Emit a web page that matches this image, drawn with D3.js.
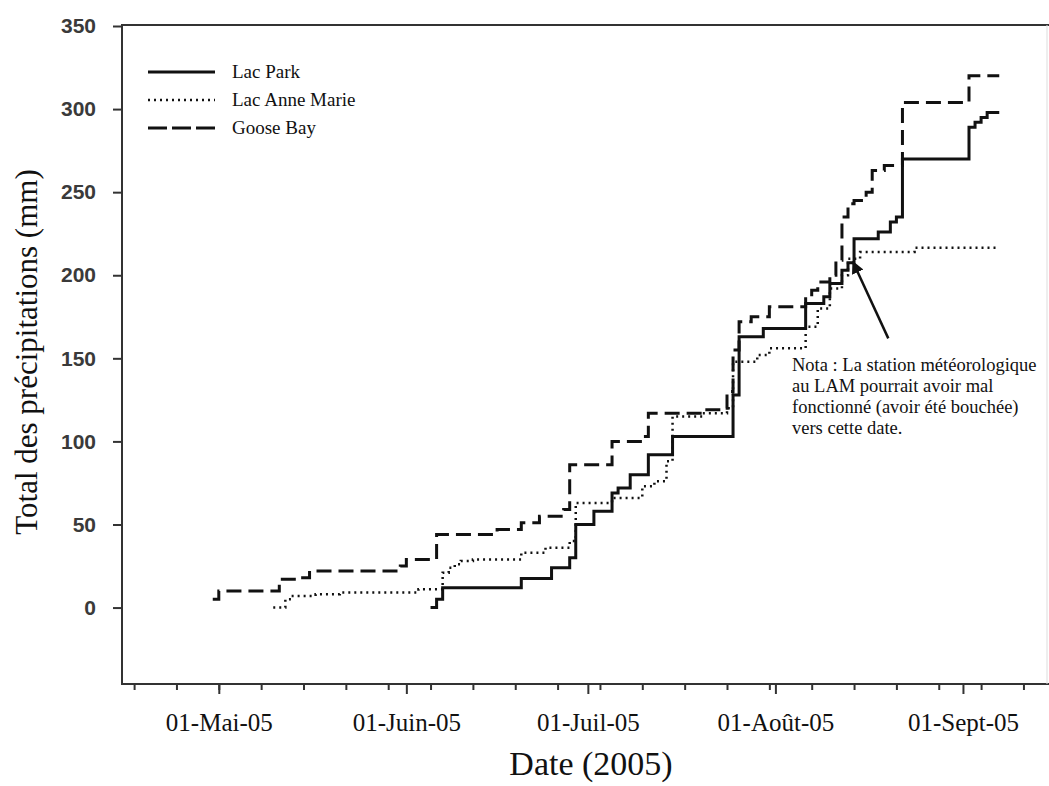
<!DOCTYPE html>
<html>
<head>
<meta charset="utf-8">
<script src="https://cdn.jsdelivr.net/npm/d3@7"></script>
<style>
  html, body { margin: 0; padding: 0; background: #fff; }
  svg { display: block; }
</style>
</head>
<body>
<svg id="chart" width="1049" height="786"></svg>
<script>
// ---- data ----
const seriesNames = ["Lac Park", "Lac Anne Marie", "Goose Bay"];

const parkDates = ["2005-06-05","2005-06-06","2005-06-07","2005-06-20","2005-06-25","2005-06-28","2005-06-29",
  "2005-07-02","2005-07-05","2005-07-06","2005-07-08","2005-07-11","2005-07-15","2005-07-25","2005-07-26",
  "2005-07-30","2005-08-06","2005-08-09","2005-08-10","2005-08-12","2005-08-13","2005-08-14","2005-08-18",
  "2005-08-20","2005-08-21","2005-08-22","2005-09-02","2005-09-03","2005-09-04","2005-09-05","2005-09-07"];
const parkValues = [0, 5, 12, 17.5, 24, 30, 50,
  58, 69, 72, 80, 92, 103, 128, 163,
  168, 183, 187, 195, 203, 207.5, 222, 226,
  232, 235, 270, 289, 292, 295, 298, 298];

const anneDates = ["2005-05-10","2005-05-12","2005-05-13","2005-05-17","2005-05-21","2005-06-03","2005-06-07",
  "2005-06-08","2005-06-09","2005-06-10","2005-06-12","2005-06-20","2005-06-24","2005-06-28","2005-06-29",
  "2005-07-05","2005-07-10","2005-07-12","2005-07-14","2005-07-15","2005-07-20","2005-07-24","2005-07-25",
  "2005-07-29","2005-07-31","2005-08-06","2005-08-08","2005-08-10","2005-08-12","2005-08-13","2005-08-15",
  "2005-08-24","2005-09-07"];
const anneValues = [0, 5, 7, 8, 9, 11, 21,
  24, 26, 28, 29, 33, 36, 40, 63,
  66, 73, 76, 88, 115, 117, 120, 148,
  152, 156, 169, 180, 192, 200, 210, 214,
  216.5, 216.5];

const gooseDates = ["2005-04-30","2005-05-01","2005-05-11","2005-05-14","2005-05-16","2005-05-31","2005-06-01",
  "2005-06-06","2005-06-16","2005-06-20","2005-06-23","2005-06-27","2005-06-28","2005-07-05","2005-07-10",
  "2005-07-11","2005-07-20","2005-07-23","2005-07-24","2005-07-25","2005-07-26","2005-07-28","2005-07-31",
  "2005-08-06","2005-08-07","2005-08-08","2005-08-10","2005-08-11","2005-08-12","2005-08-13","2005-08-14",
  "2005-08-16","2005-08-17","2005-08-19","2005-08-22","2005-09-02","2005-09-07"];
const gooseValues = [5, 10, 17, 18, 22, 25, 29,
  44, 47, 51, 55, 59, 86, 100, 103,
  117, 119, 120, 130, 155, 172, 175, 181,
  187, 191, 196, 200, 209, 235, 243, 245,
  250, 263, 266, 304, 320, 320];

const yTicks = [0, 50, 100, 150, 200, 250, 300, 350];
const monthTickDates = ["2005-05-01","2005-06-01","2005-07-01","2005-08-01","2005-09-01"];
const monthTickLabels = ["01-Mai-05","01-Juin-05","01-Juil-05","01-Août-05","01-Sept-05"];
const noteLines = ["Nota : La station météorologique","au LAM pourrait avoir mal",
  "fonctionné (avoir été bouchée)","vers cette date."];

// ---- layout ----
const parse = d3.timeParse("%Y-%m-%d");
const plotLeft = 122, plotTop = 26, plotBottom = 684;
const serif = "'Liberation Serif','Times New Roman',serif";
const sans = "'Liberation Sans',Arial,sans-serif";

const x = d3.scaleTime()
  .domain([parse("2005-04-15"), parse("2005-09-16")])
  .range([plotLeft, plotLeft + 154 * 6.05]);
const y = d3.scaleLinear().domain([-46, 350]).range([plotBottom, plotTop]);

const svg = d3.select("#chart");
svg.append("rect").attr("width", 1049).attr("height", 786).attr("fill", "#fff");

// frame
svg.append("line").attr("x1", plotLeft).attr("x2", 1049).attr("y1", 25).attr("y2", 25)
  .attr("stroke", "#333").attr("stroke-width", 2);
svg.append("line").attr("x1", plotLeft).attr("x2", 1049).attr("y1", plotBottom).attr("y2", plotBottom)
  .attr("stroke", "#333").attr("stroke-width", 2);
svg.append("line").attr("x1", plotLeft).attr("x2", plotLeft).attr("y1", 24).attr("y2", plotBottom + 1)
  .attr("stroke", "#333").attr("stroke-width", 2);
svg.append("line").attr("x1", 1047).attr("x2", 1047).attr("y1", 25).attr("y2", plotBottom)
  .attr("stroke", "#ddd").attr("stroke-width", 1);

// y axis
const yAxis = svg.append("g").attr("transform", `translate(${plotLeft},0)`)
  .call(d3.axisLeft(y).tickValues(yTicks).tickSize(9).tickPadding(17));
yAxis.select(".domain").remove();
yAxis.selectAll(".tick line").attr("stroke", "#333").attr("stroke-width", 2);
yAxis.selectAll(".tick text").attr("font-family", sans).attr("font-size", 21)
  .attr("font-weight", "bold").attr("fill", "#3a3a3a");

// x axis minor (weekly) ticks
const xMinor = svg.append("g").attr("transform", `translate(0,${plotBottom})`)
  .call(d3.axisBottom(x).ticks(d3.timeWeek.every(1)).tickSize(6).tickFormat(""));
xMinor.select(".domain").remove();
xMinor.selectAll(".tick line").attr("stroke", "#333").attr("stroke-width", 2);

// x axis major (monthly) ticks
const monthDates = monthTickDates.map(parse);
const xMajor = svg.append("g").attr("transform", `translate(0,${plotBottom})`)
  .call(d3.axisBottom(x).tickValues(monthDates).tickSize(10)
    .tickFormat((d, i) => monthTickLabels[i]));
xMajor.select(".domain").remove();
xMajor.selectAll(".tick line").attr("stroke", "#333").attr("stroke-width", 2);
xMajor.selectAll(".tick text").attr("font-family", serif).attr("font-size", 25)
  .attr("fill", "#111").attr("y", 47).attr("dy", 0);

// axis titles
svg.append("text").attr("x", 591).attr("y", 775).attr("text-anchor", "middle")
  .attr("font-family", serif).attr("font-size", 34).attr("fill", "#111").text("Date (2005)");
svg.append("text").attr("transform", "translate(37,352) rotate(-90)").attr("text-anchor", "middle")
  .attr("font-family", serif).attr("font-size", 31).attr("fill", "#111")
  .text("Total des précipitations (mm)");

// series
const styles = [
  { dash: null, width: 3 },
  { dash: "2,4", width: 2.5 },
  { dash: "15,7", width: 3 }
];
const seriesData = [
  parkDates.map((d, i) => [parse(d), parkValues[i]]),
  anneDates.map((d, i) => [parse(d), anneValues[i]]),
  gooseDates.map((d, i) => [parse(d), gooseValues[i]])
];
const line = d3.line().x(d => x(d[0])).y(d => y(d[1])).curve(d3.curveStepAfter);
seriesData.forEach((s, i) => {
  svg.append("path").datum(s).attr("d", line).attr("fill", "none")
    .attr("stroke", "#111").attr("stroke-width", styles[i].width)
    .attr("stroke-dasharray", styles[i].dash);
});

// legend
seriesNames.forEach((name, i) => {
  const ly = 72 + i * 28;
  svg.append("line").attr("x1", 148).attr("x2", 215).attr("y1", ly).attr("y2", ly)
    .attr("stroke", "#111").attr("stroke-width", styles[i].width)
    .attr("stroke-dasharray", i === 2 ? "19,5" : styles[i].dash);
  svg.append("text").attr("x", 232).attr("y", ly + 6).attr("font-family", serif)
    .attr("font-size", 19).attr("fill", "#111").text(name);
});

// annotation arrow
const defs = svg.append("defs");
defs.append("marker").attr("id", "arrow").attr("viewBox", "0 0 10 10").attr("refX", 9).attr("refY", 5)
  .attr("markerWidth", 5).attr("markerHeight", 5).attr("orient", "auto")
  .append("path").attr("d", "M0,0 L10,5 L0,10 Z").attr("fill", "#111");
const tip = [x(parse("2005-08-13")) + 5, y(208)];
const tail = [x(parse("2005-08-19")) + 4, y(162)];
svg.append("line").attr("x1", tail[0]).attr("y1", tail[1]).attr("x2", tip[0]).attr("y2", tip[1])
  .attr("stroke", "#111").attr("stroke-width", 2.5).attr("marker-end", "url(#arrow)");

const note = svg.append("text").attr("font-family", serif).attr("font-size", 18.5).attr("fill", "#111");
noteLines.forEach((t, i) => {
  note.append("tspan").attr("x", 792).attr("y", 371 + i * 21).text(t);
});
</script>
</body>
</html>
